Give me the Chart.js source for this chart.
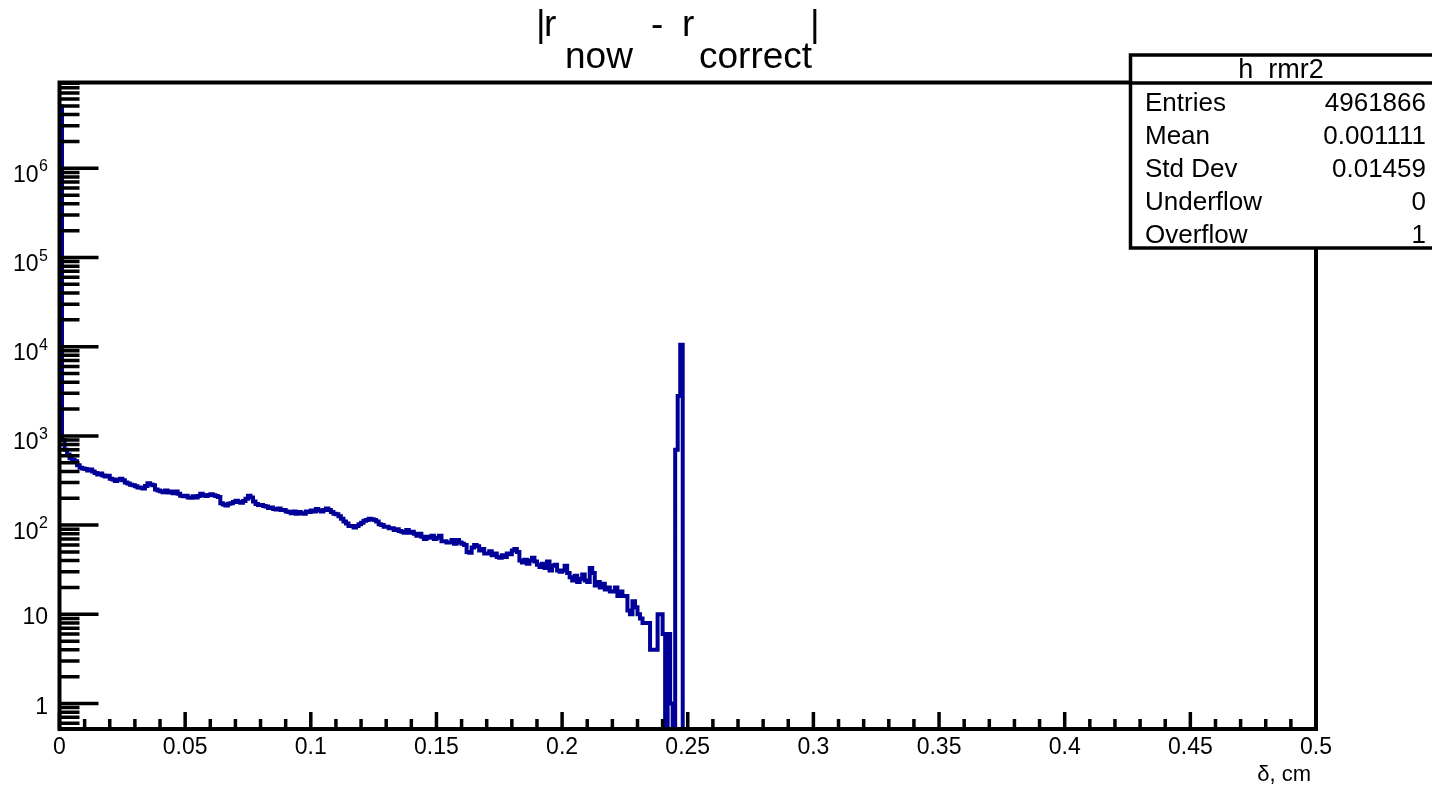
<!DOCTYPE html>
<html>
<head>
<meta charset="utf-8">
<script src="https://cdn.jsdelivr.net/npm/chart.js"></script>
<style>
  html, body { margin: 0; padding: 0; background: #fff; }
  canvas { display: block; }
</style>
</head>
<body>
<canvas id="chart" width="1432" height="790"></canvas>
<script>
// h_rmr2: bins of 0.001 cm starting at 0, everything past bin 249 is empty
const binWidth = 0.001;
const counts = [
  4920000, 900, 700, 620, 560, 540, 520, 470, 440, 430,
  425, 410, 420, 400, 385, 370, 378, 360, 350, 358,
  330, 325, 312, 322, 332, 318, 300, 292, 284, 280,
  272, 264, 262, 258, 275, 294, 286, 280, 250, 244,
  240, 234, 244, 232, 238, 228, 238, 224, 214, 210,
  214, 204, 202, 210, 204, 212, 224, 216, 212, 218,
  222, 216, 212, 206, 176, 170, 166, 174, 176, 182,
  188, 182, 178, 186, 198, 214, 204, 184, 172, 168,
  168, 164, 162, 156, 158, 152, 150, 154, 148, 148,
  142, 140, 136, 142, 134, 140, 136, 134, 142, 140,
  146, 142, 152, 146, 142, 148, 154, 148, 140, 134,
  132, 126, 118, 110, 104, 98, 98, 94, 98, 102,
  106, 112, 114, 118, 116, 114, 110, 102, 100, 96,
  96, 92, 92, 88, 90, 86, 84, 82, 88, 82,
  84, 80, 76, 80, 74, 70, 74, 72, 76, 70,
  72, 76, 66, 66, 64, 64, 68, 62, 68, 64,
  62, 60, 50, 49, 56, 60, 58, 52, 54, 48,
  48, 51, 46, 48, 44, 43, 46, 44, 48, 47,
  52, 54, 50, 40, 38, 41, 37, 40, 43, 39,
  36, 34, 37, 33, 39, 31, 35, 36, 31, 30,
  31, 35, 29, 26, 24, 27, 23, 25, 28, 24,
  23, 33, 29, 21, 23, 20, 22, 19, 20, 18,
  18, 20, 16, 18, 16, 16, 11, 10, 14, 12,
  10, 9, 8, 8, 8, 4, 4, 4, 10, 10,
  6, 0, 6, 1, 0, 700, 2800, 10500, 0, 0
];

const xRange = [0, 0.5];
const yRange = [0.518, 9.16e6];
const yLabelExponents = [0, 1, 2, 3, 4, 5, 6];

const statsTitle = 'h_rmr2';
const statsNames = ['Entries', 'Mean', 'Std Dev', 'Underflow', 'Overflow'];
const statsValues = ['4961866', '0.001111', '0.01459', '0', '1'];

const FONT = '"Liberation Sans", Arial, Helvetica, sans-serif';
const EMPTY = 0.01; // empty bins are drawn below the frame, like root does

const points = counts.map((c, i) => ({ x: i * binWidth, y: c > 0 ? c : EMPTY }));
points.push({ x: counts.length * binWidth, y: EMPTY });

const rootLook = {
  id: 'rootLook',
  afterDatasetsDraw(chart) {
    const { ctx, chartArea: a, scales } = chart;
    const xs = scales.x, ys = scales.y;
    ctx.save();
    ctx.strokeStyle = '#000';
    ctx.lineWidth = 3.5;
    ctx.lineCap = 'butt';

    // x ticks, pointing into the frame
    ctx.beginPath();
    for (let k = 0; k <= 50; k++) {
      const px = xs.getPixelForValue(k * 0.01);
      const len = k % 5 === 0 ? 17 : 10;
      ctx.moveTo(px, a.bottom);
      ctx.lineTo(px, a.bottom - len);
    }
    // y ticks, log decades with 2..9 minors
    for (let d = -1; d <= 7; d++) {
      for (let k = 1; k <= 9; k++) {
        const v = k * Math.pow(10, d);
        if (v < yRange[0] || v > yRange[1]) continue;
        const py = ys.getPixelForValue(v);
        ctx.moveTo(a.left, py);
        ctx.lineTo(a.left + (k === 1 ? 39 : 20), py);
      }
    }
    ctx.stroke();

    ctx.lineWidth = 4;
    ctx.strokeRect(a.left, a.top, a.right - a.left, a.bottom - a.top);
    ctx.restore();
  },
  afterDraw(chart) {
    const { ctx, scales } = chart;
    const ys = scales.y;
    ctx.save();
    ctx.fillStyle = '#000';
    ctx.textBaseline = 'alphabetic';

    // y labels: 1, 10, 10^2 ...
    yLabelExponents.forEach(e => {
      const py = ys.getPixelForValue(Math.pow(10, e));
      if (e < 2) {
        ctx.font = '23px ' + FONT;
        ctx.textAlign = 'right';
        ctx.fillText(e === 0 ? '1' : '10', 48, py + 10);
      } else {
        ctx.font = '16px ' + FONT;
        const supW = ctx.measureText(String(e)).width;
        ctx.textAlign = 'left';
        ctx.fillText(String(e), 48 - supW, py + 3);
        ctx.font = '23px ' + FONT;
        ctx.textAlign = 'right';
        ctx.fillText('10', 48 - supW - 0.5, py + 13.5);
      }
    });

    // axis title
    ctx.font = '22px ' + FONT;
    ctx.textAlign = 'right';
    ctx.fillText('\u03b4, cm', 1311, 781);

    // title |r_now - r_correct|
    ctx.font = '37px ' + FONT;
    ctx.textAlign = 'left';
    ctx.fillText('|', 536, 36);
    ctx.fillText('r', 544, 36);
    ctx.fillText('now', 565, 68);
    ctx.fillText('-', 651, 36);
    ctx.fillText('r', 682, 36);
    ctx.fillText('correct', 699, 68);
    ctx.fillText('|', 810, 36);

    // stats box
    const bx = 1130.5, by = 55, bw = 320, bh = 193, sep = 83;
    ctx.fillStyle = '#fff';
    ctx.fillRect(bx, by, bw, bh);
    ctx.strokeStyle = '#000';
    ctx.lineWidth = 3.5;
    ctx.strokeRect(bx, by, bw, bh);
    ctx.beginPath();
    ctx.moveTo(bx, sep);
    ctx.lineTo(bx + bw, sep);
    ctx.stroke();

    ctx.fillStyle = '#000';
    ctx.font = '27px ' + FONT;
    ctx.textAlign = 'center';
    ctx.fillText(statsTitle, 1281, 78);
    ctx.font = '26px ' + FONT;
    statsNames.forEach((name, i) => {
      const base = 111 + i * 33;
      ctx.textAlign = 'left';
      ctx.fillText(name, 1145, base);
      ctx.textAlign = 'right';
      ctx.fillText(statsValues[i], 1426, base);
    });
    ctx.restore();
  }
};

new Chart(document.getElementById('chart').getContext('2d'), {
  type: 'line',
  data: {
    datasets: [{
      data: points,
      stepped: 'before',
      borderColor: '#000099',
      borderWidth: 4,
      pointRadius: 0,
      fill: false,
      tension: 0,
      borderJoinStyle: 'miter',
    }],
  },
  options: {
    responsive: false,
    devicePixelRatio: 1,
    animation: false,
    events: [],
    layout: {
      padding: { left: 59.5, right: 116, top: 82.5, bottom: 0 },
    },
    scales: {
      x: {
        type: 'linear',
        min: xRange[0],
        max: xRange[1],
        bounds: 'data',
        grid: { display: false, drawTicks: false },
        border: { display: false },
        ticks: {
          stepSize: 0.05,
          autoSkip: false,
          maxRotation: 0,
          padding: 5,
          color: '#000',
          font: { family: FONT, size: 23 },
          callback: (v) => String(Number(v.toFixed(2))),
        },
        afterFit: (scale) => { scale.height = 61; },
      },
      y: {
        type: 'logarithmic',
        min: yRange[0],
        max: yRange[1],
        bounds: 'data',
        display: false,
      },
    },
    plugins: {
      legend: { display: false },
      tooltip: { enabled: false },
      title: { display: false },
    },
  },
  plugins: [rootLook],
});
</script>
</body>
</html>
